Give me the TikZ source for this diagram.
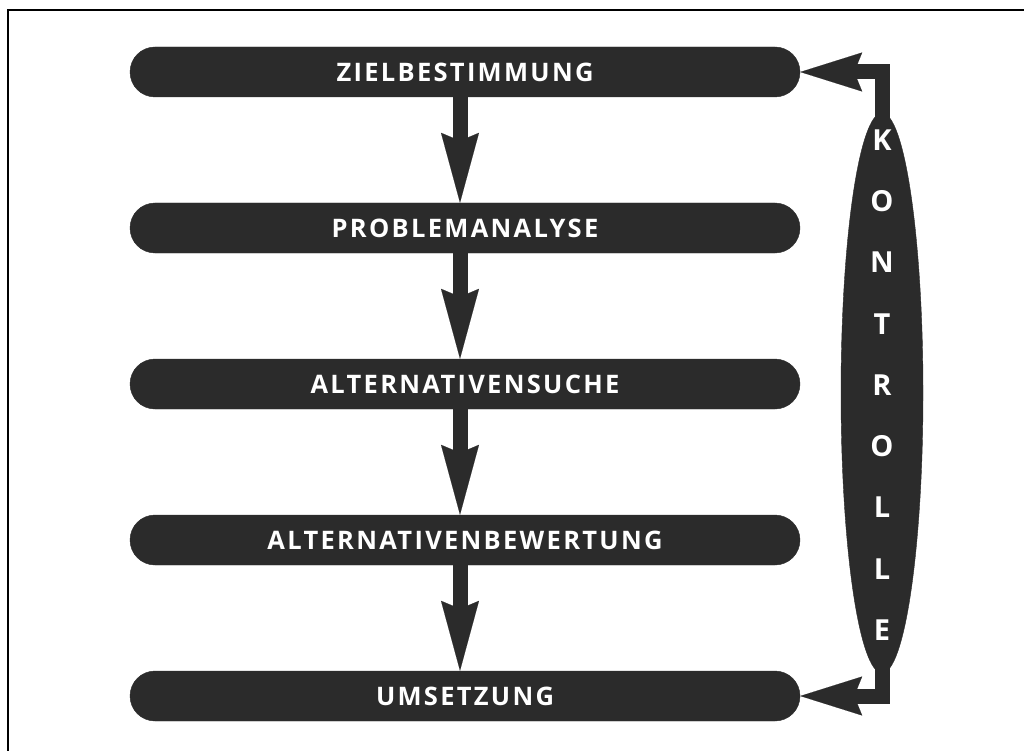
\documentclass[tikz,border=0pt]{standalone}
\usepackage{fontspec}
\newfontfamily\barfont[LetterSpace=9]{Open Sans}
\newfontfamily\kfont{Open Sans}
\usetikzlibrary{shapes.geometric,arrows.meta}
\definecolor{ink}{gray}{0.17}
\begin{document}
\begin{tikzpicture}[x=1pt,y=-1pt,
  phase/.style={draw=ink,fill=ink,rounded corners=25pt,minimum width=670pt,
    minimum height=50pt,inner sep=0pt,text=white,
    font=\barfont\bfseries\fontsize{25.5}{27}\selectfont},
  flow/.style={draw=ink,line width=15pt,
    -{Stealth[length=70pt,width=38pt,inset=8pt,line width=0.1pt]}},
  back/.style={draw=ink,line width=15pt,
    -{Stealth[length=62pt,width=39pt,inset=8pt,line width=0.1pt]}}]
\useasboundingbox (0,0) rectangle (1024,751);
% frame
\draw[line width=1.8pt] (8,751) |- (1024,10);
% phases
\node[phase] (z) at (465,72)  {ZIELBESTIMMUNG};
\node[phase] (p) at (465,228) {PROBLEMANALYSE};
\node[phase] (s) at (465,384) {ALTERNATIVENSUCHE};
\node[phase] (b) at (465,540) {ALTERNATIVENBEWERTUNG};
\node[phase] (u) at (465,696) {UMSETZUNG};
% forward flow
\draw[flow] ([xshift=-5pt]z.south) -- ([xshift=-5pt]p.north);
\draw[flow] ([xshift=-5pt]p.south) -- ([xshift=-5pt]s.north);
\draw[flow] ([xshift=-5pt]s.south) -- ([xshift=-5pt]b.north);
\draw[flow] ([xshift=-5pt]b.south) -- ([xshift=-5pt]u.north);
% control loop
\node[ellipse,draw=ink,fill=ink,minimum width=82pt,minimum height=560pt,inner sep=0pt] (k) at (882,393) {};
\draw[back] (k.center) |- (z.east);
\draw[back] (k.center) |- (u.east);
\node[text=white,align=center,inner sep=0pt,font=\kfont\bfseries\fontsize{29}{61.25}\selectfont] (kt) at (882,385)
  {K\\O\\N\\T\\R\\O\\L\\L\\E};
\end{tikzpicture}
\end{document}
